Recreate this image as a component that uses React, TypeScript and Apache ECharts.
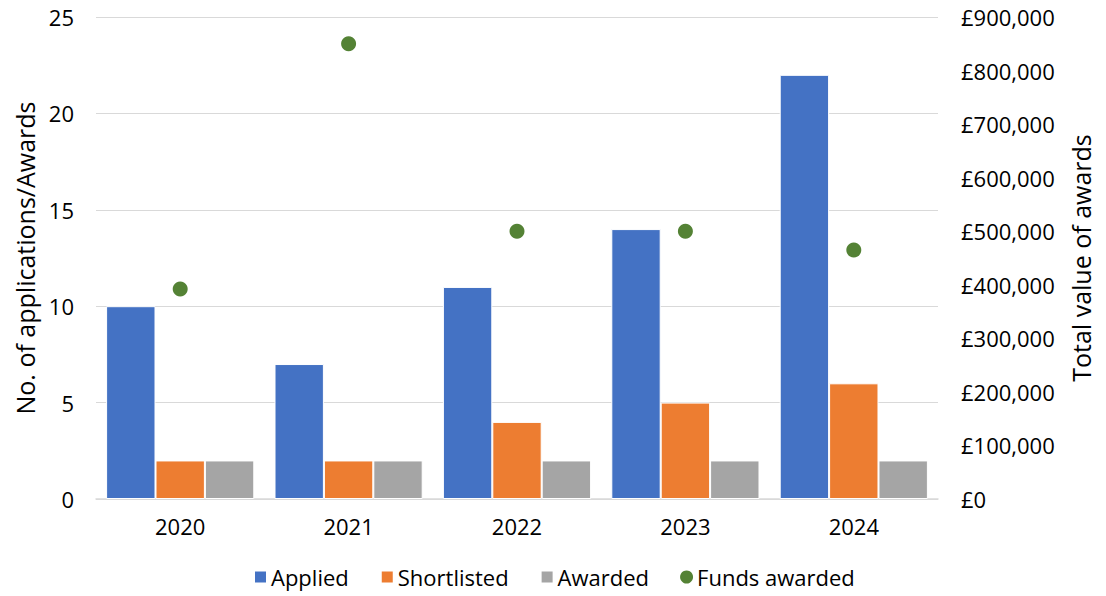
import React, { useEffect, useRef } from "react";
import * as echarts from "echarts";

const years = ["2020", "2021", "2022", "2023", "2024"];
const applied = [10, 7, 11, 14, 22];
const shortlisted = [2, 2, 4, 5, 6];
const awarded = [2, 2, 2, 2, 2];
const fundsAwarded = [392000, 850000, 500000, 500000, 465000];

const FONT = "Open Sans";

export default function App() {
  const ref = useRef<HTMLDivElement>(null);
  useEffect(() => {
    const chart = echarts.init(ref.current!, null, { renderer: "svg" });
    const txt = { fontFamily: FONT, fontSize: 22, color: "#000" };
    const nameTxt = { fontFamily: FONT, fontSize: 25, color: "#000" };
    const barBorder = { borderColor: "#fff", borderWidth: 1 };
    chart.setOption({
      animation: false,
      textStyle: { fontFamily: FONT },
      grid: { left: 96, right: 168, top: 17, bottom: 97 },
      legend: {
        bottom: 3,
        left: 248,
        itemWidth: 13,
        itemHeight: 13,
        itemGap: 31,
        textStyle: { ...txt, padding: [0, 0, 0, -1] },
        data: [
          { name: "Applied", icon: "rect" },
          { name: "Shortlisted", icon: "rect" },
          { name: "Awarded", icon: "rect" },
          { name: "Funds awarded", icon: "circle" },
        ],
      },
      xAxis: {
        type: "category",
        data: years,
        axisTick: { show: false },
        axisLine: { lineStyle: { color: "#D9D9D9", width: 1.5 } },
        axisLabel: { ...txt, margin: 16 },
      },
      yAxis: [
        {
          type: "value",
          min: 0,
          max: 25,
          interval: 5,
          name: "No. of applications/Awards",
          nameLocation: "middle",
          nameGap: 57,
          nameTextStyle: nameTxt,
          axisLabel: { ...txt, margin: 22 },
          axisLine: { show: false },
          splitLine: { lineStyle: { color: "#D9D9D9", width: 1 } },
        },
        {
          type: "value",
          min: 0,
          max: 900000,
          interval: 100000,
          name: "Total value of awards",
          nameLocation: "middle",
          nameGap: 130,
          nameTextStyle: nameTxt,
          axisLabel: {
            ...txt,
            margin: 23,
            formatter: (v: number) => "£" + v.toLocaleString("en-GB"),
          },
          axisLine: { show: false },
          splitLine: { show: false },
        },
      ],
      series: [
        {
          name: "Applied",
          type: "bar",
          data: applied,
          barGap: "0%",
          barCategoryGap: "12%",
          itemStyle: { color: "#4472C4", ...barBorder },
        },
        {
          name: "Shortlisted",
          type: "bar",
          data: shortlisted,
          itemStyle: { color: "#ED7D31", ...barBorder },
        },
        {
          name: "Awarded",
          type: "bar",
          data: awarded,
          itemStyle: { color: "#A5A5A5", ...barBorder },
        },
        {
          name: "Funds awarded",
          type: "scatter",
          yAxisIndex: 1,
          data: fundsAwarded,
          symbolSize: 15,
          itemStyle: { color: "#548235", opacity: 1 },
        },
      ],
    });
    return () => chart.dispose();
  }, []);
  return (
    <div
      ref={ref}
      style={{ position: "fixed", left: 0, top: 0, width: 1106, height: 596, background: "#fff" }}
    />
  );
}
